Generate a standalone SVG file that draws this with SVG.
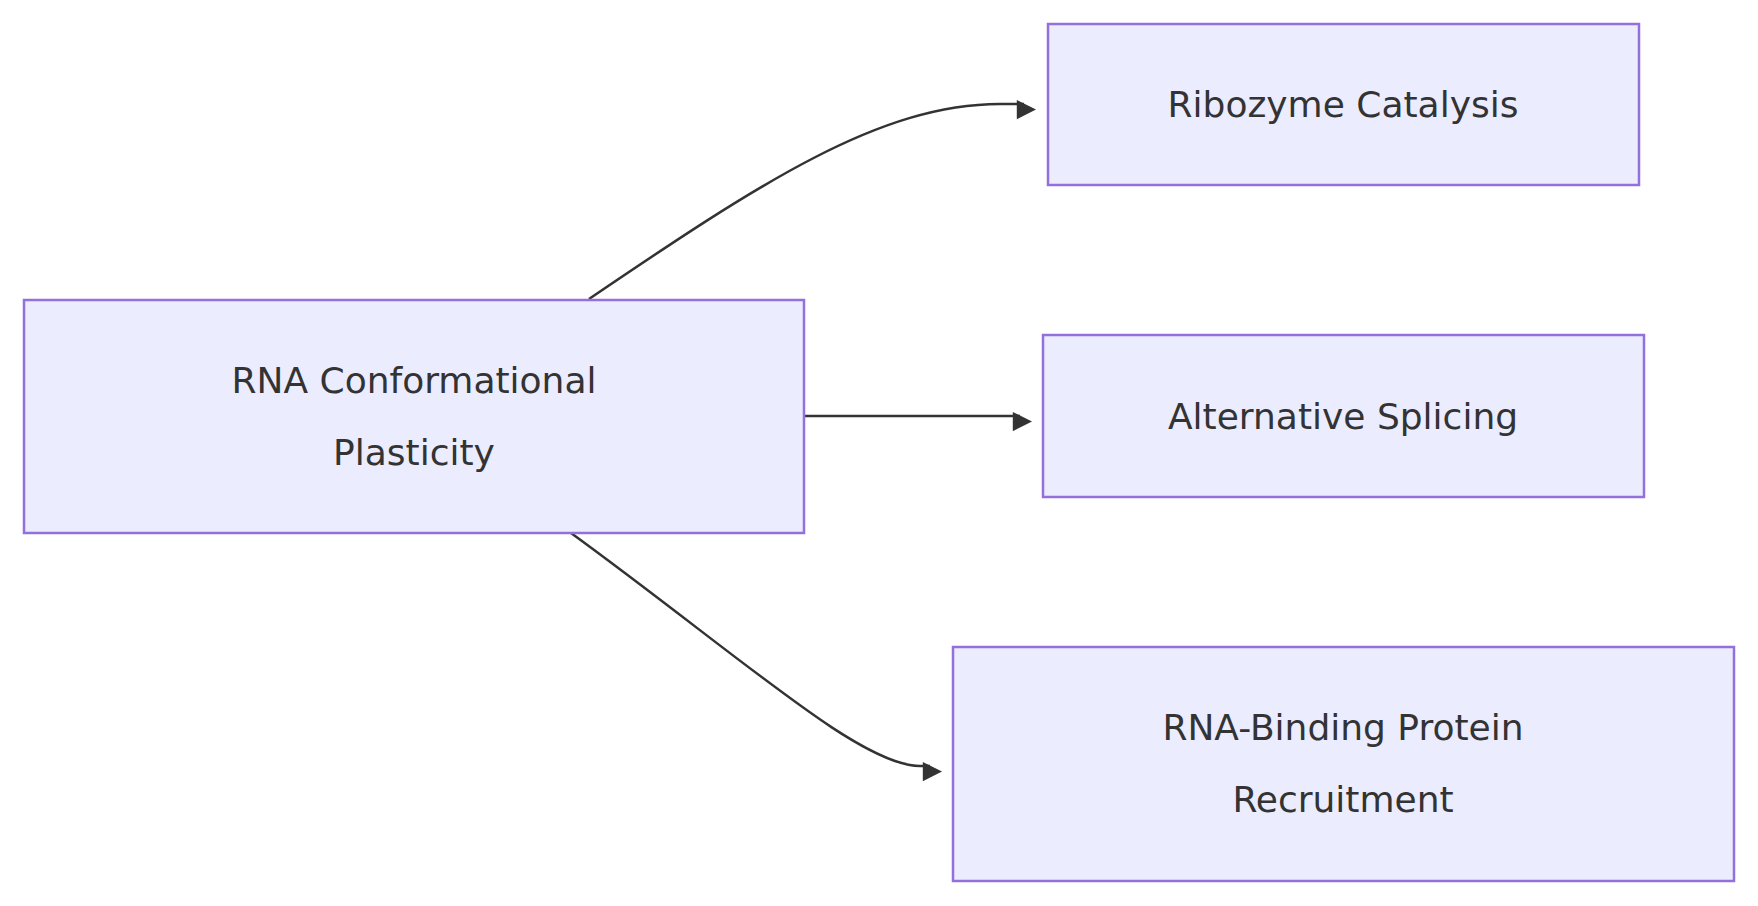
<svg xmlns="http://www.w3.org/2000/svg" width="1758" height="906" viewBox="0 0 1758 906">
<style>
.n{fill:#ececff;stroke:#9370db;stroke-width:2.5}
.t{font-family:"DejaVu Sans",sans-serif;font-size:36px;fill:#333;text-anchor:middle}
.e{fill:none;stroke:#333;stroke-width:2.5}
</style>
<defs><marker id="a" viewBox="0 0 10 10" refX="9" refY="5" markerWidth="8" markerHeight="8" orient="auto" markerUnits="userSpaceOnUse" style="overflow:visible"><path d="M0,0L10,5L0,10z" fill="#333" transform="scale(2.4) translate(-5,-5) translate(5,5)"/></marker></defs>
<rect width="1758" height="906" fill="#fff"/>
<g id="edges">
<path class="e" d="M589,299 C760,183 880,104 1000,104 L1024,104" marker-end="url(#a)"/>
<path class="e" d="M804,416 L1020,416" marker-end="url(#a)"/>
<path class="e" d="M571,533 C740,656 860,766 920,766 L930,766" marker-end="url(#a)"/>
</g>
<g id="main"><rect class="n" x="24" y="300" width="780" height="233"/><text class="t" x="414" y="393">RNA Conformational</text><text class="t" x="414" y="465">Plasticity</text></g>
<g id="ribozyme"><rect class="n" x="1048" y="24" width="591" height="161"/><text class="t" x="1343" y="117">Ribozyme Catalysis</text></g>
<g id="splicing"><rect class="n" x="1043" y="335" width="601" height="162"/><text class="t" x="1343" y="429">Alternative Splicing</text></g>
<g id="rbp"><rect class="n" x="953" y="647" width="781" height="234"/><text class="t" x="1343" y="740">RNA-Binding Protein</text><text class="t" x="1343" y="812">Recruitment</text></g>
</svg>
